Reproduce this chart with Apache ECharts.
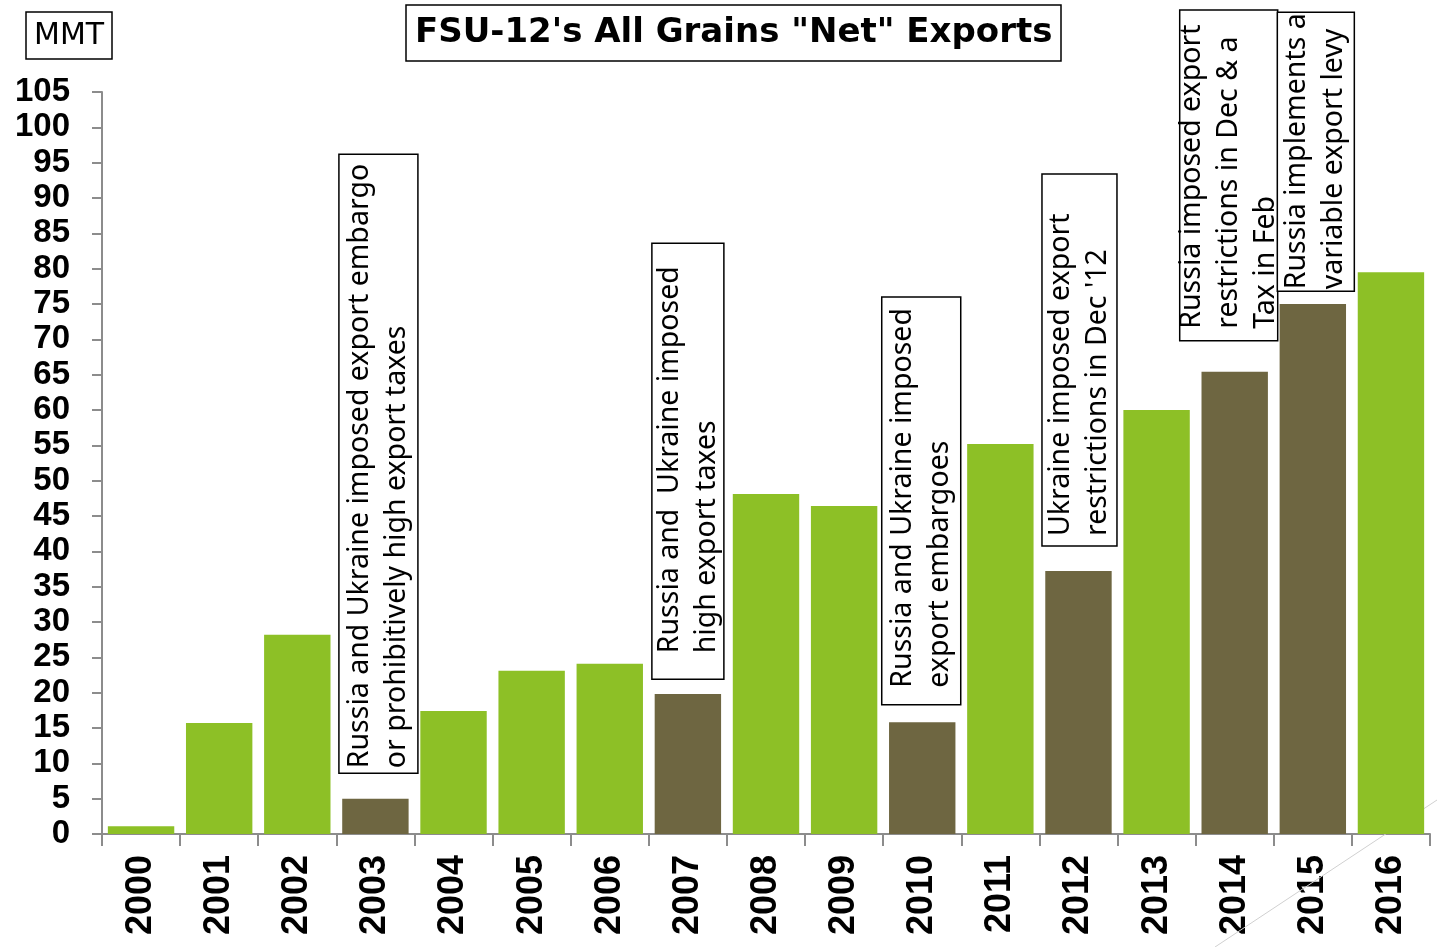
<!DOCTYPE html>
<html>
<head>
<meta charset="utf-8">
<script src="https://cdn.jsdelivr.net/npm/echarts@6/dist/echarts.min.js"></script>
<style>html,body{margin:0;padding:0;background:#fff}#c{width:1437px;height:947px}</style>
</head>
<body>
<div id="c"></div>
<script>
// ---- data ----
const years = ['2000','2001','2002','2003','2004','2005','2006','2007','2008','2009','2010','2011','2012','2013','2014','2015','2016'];
const netExports = [1.1, 15.7, 28.2, 5.0, 17.4, 23.1, 24.1, 19.8, 48.1, 46.4, 15.8, 55.2, 37.2, 60.0, 65.4, 75.0, 79.5];
const restrictedYears = ['2003','2007','2010','2012','2014','2015'];
const yTicks = {min: 0, max: 105, step: 5};
const annotationYears = ['2003','2007','2010','2012','2014','2015'];
const annotationTexts = [
  'Russia and Ukraine imposed export embargo\nor prohibitively high export taxes',
  'Russia and  Ukraine imposed\nhigh export taxes',
  'Russia and Ukraine imposed\nexport embargoes',
  'Ukraine imposed export\nrestrictions in Dec \'12',
  'Russia imposed export\nrestrictions in Dec & a\nTax in Feb',
  'Russia implements a\nvariable export levy'
];

// ---- layout of annotation boxes (value units for vertical extent) ----
const boxLayout = [
  {dx: 3,  w: 79, top: 96.2, bottom: 8.6,  pad: 5},
  {dx: 0,  w: 72, top: 83.6, bottom: 21.9, pad: 26},
  {dx: -1, w: 79, top: 76.0, bottom: 18.3, pad: 17},
  {dx: 1,  w: 75, top: 93.4, bottom: 40.75, pad: 10},
  {dx: -6, w: 98, top: 116.6, bottom: 69.8, pad: 12},
  {dx: 3,  w: 77, top: 116.3, bottom: 76.8, pad: 2}
];

const GREEN = '#8dc026';
const OLIVE = '#6e6641';
const labelFont = 'Liberation Sans, Arial, sans-serif';

const chart = echarts.init(document.getElementById('c'));
const option = {
  animation: false,
  backgroundColor: '#fff',
  title: [
    {
      text: 'FSU-12\'s All Grains "Net" Exports',
      left: 406, top: 5,
      padding: [11, 9, 11, 9],
      borderColor: '#000', borderWidth: 1.5,
      textStyle: {fontFamily: 'DejaVu Sans', fontWeight: 'bold', fontSize: 34, color: '#000'}
    },
    {
      text: 'MMT',
      left: 26, top: 12,
      padding: [9, 8, 8, 8],
      borderColor: '#000', borderWidth: 1.5,
      textStyle: {fontFamily: 'DejaVu Sans', fontWeight: 'normal', fontSize: 30, color: '#000'}
    }
  ],
  grid: {left: 102, right: 7, top: 92, bottom: 113, containLabel: false},
  xAxis: {
    type: 'category',
    data: years,
    axisLine: {lineStyle: {color: '#8c8c8c', width: 2}},
    axisTick: {show: true, length: 12, lineStyle: {color: '#8c8c8c', width: 2}},
    axisLabel: {rotate: 90, margin: 21, fontFamily: labelFont, fontWeight: 'bold', fontSize: 36, color: '#000', interval: 0}
  },
  yAxis: {
    type: 'value',
    min: yTicks.min, max: yTicks.max, interval: yTicks.step,
    splitLine: {show: false},
    axisLine: {show: true, lineStyle: {color: '#8c8c8c', width: 2}},
    axisTick: {show: true, length: 10, lineStyle: {color: '#8c8c8c', width: 2}},
    axisLabel: {margin: 32, fontFamily: labelFont, fontWeight: 'bold', fontSize: 33, color: '#000'}
  },
  series: [{
    type: 'bar',
    barCategoryGap: '15%',
    data: years.map((y, i) => ({
      value: netExports[i],
      itemStyle: {color: restrictedYears.includes(y) ? OLIVE : GREEN}
    }))
  }]
};
chart.setOption(option);

// annotation boxes positioned through the axes
const graphics = [];
annotationYears.forEach((yr, i) => {
  const L = boxLayout[i];
  const cx = chart.convertToPixel({xAxisIndex: 0}, yr) + L.dx;
  const yTop = chart.convertToPixel({yAxisIndex: 0}, L.top);
  const yBot = chart.convertToPixel({yAxisIndex: 0}, L.bottom);
  graphics.push({
    type: 'rect', z: 100,
    shape: {x: cx - L.w / 2, y: yTop, width: L.w, height: yBot - yTop},
    style: {fill: '#fff', stroke: '#000', lineWidth: 1.5}
  });
  graphics.push({
    type: 'text', z: 101,
    x: cx, y: yBot - L.pad,
    rotation: Math.PI / 2,
    style: {
      text: annotationTexts[i],
      fontFamily: 'Noto Sans', fontSize: 28.5, lineHeight: 37,
      fill: '#000', align: 'left', verticalAlign: 'middle'
    }
  });
});
graphics.push({
  type: 'line', z: 1,
  shape: {x1: 1215, y1: 947, x2: 1437, y2: 800},
  style: {stroke: '#d0d0d0', lineWidth: 1}
});
chart.setOption({graphic: graphics});
</script>
</body>
</html>
